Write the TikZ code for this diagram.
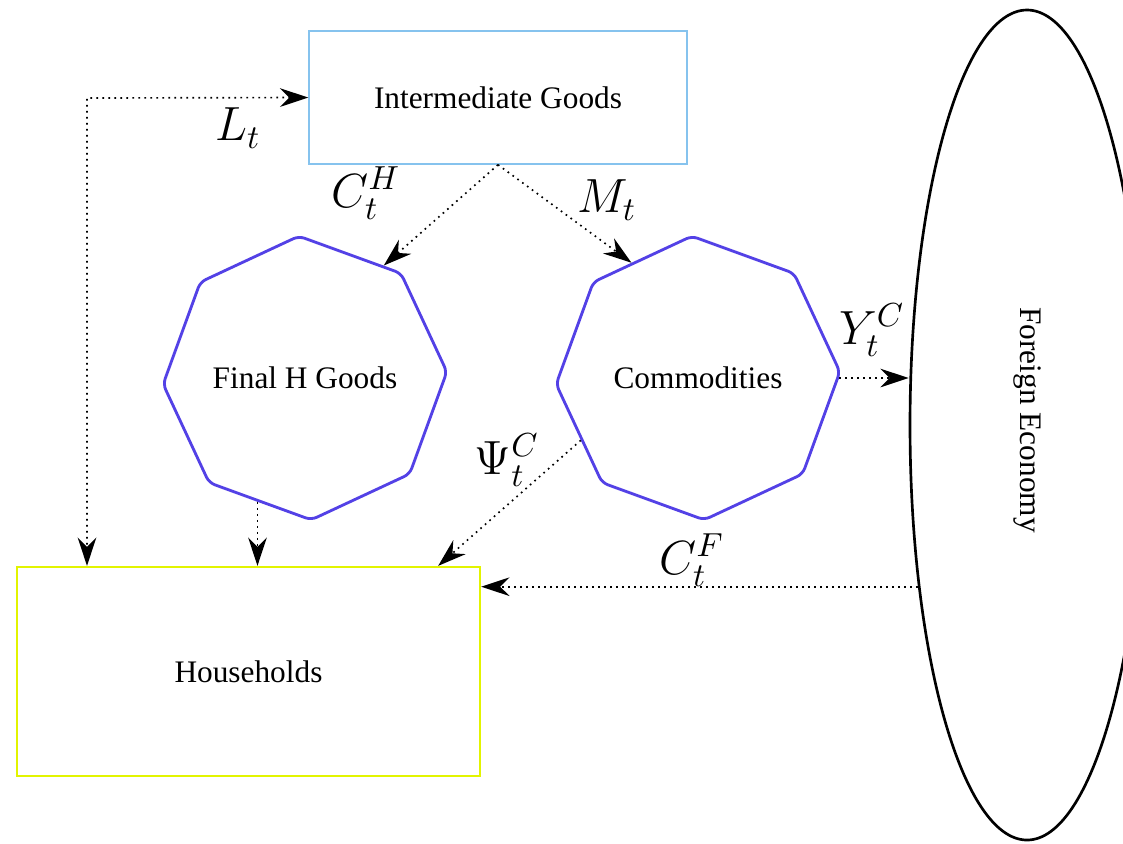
\documentclass[tikz,border=0pt]{standalone}
\usepackage{fontspec}
\setmainfont{Liberation Serif}
\usetikzlibrary{shapes.geometric,arrows.meta,calc}
\definecolor{ibox}{HTML}{86C3EE}
\definecolor{hbox}{HTML}{E2F400}
\definecolor{octo}{HTML}{5341E6}
\begin{document}
\begin{tikzpicture}[x=0.3pt,y=-0.3pt,
  txt/.style={font=\fontsize{9.4}{11}\selectfont},
  lbl/.style={font=\fontsize{14.4}{16}\selectfont},
  boxA/.style={draw=ibox,line width=0.45pt,minimum width=378*0.3pt,minimum height=133*0.3pt,inner sep=0pt,txt},
  boxB/.style={draw=hbox,line width=0.7pt,minimum width=463*0.3pt,minimum height=209*0.3pt,inner sep=0pt,txt},
  octa/.style={draw=octo,line width=0.85pt,regular polygon,regular polygon sides=8,shape border rotate=-20,minimum size=284*0.3pt,inner sep=0pt,rounded corners=1.8pt,txt},
  flow/.style={line width=0.5pt,dash pattern=on 0.5pt off 1.3pt,-{Stealth[length=8.5pt,width=5.6pt,inset=2.8pt]}},
  flow2/.style={flow,{Stealth[length=8.5pt,width=5.6pt,inset=2.8pt]}-{Stealth[length=8.5pt,width=5.6pt,inset=2.8pt]}}
]
\useasboundingbox (0,0) rectangle (1123,843);
\node[boxA] (int) at (498,97.5) {Intermediate Goods};
\node[boxB] (hh) at (248.5,671.5) {Households};
\node[octa] (fh) at (305,378) {Final H Goods};
\node[octa] (com) at (698,378) {Commodities};
\node[draw,line width=0.8pt,ellipse,minimum width=234*0.3pt,minimum height=830*0.3pt,inner sep=0pt] (fe) at (1027,425) {};
\node[txt,rotate=-90] (fel) at (1027,420) {Foreign Economy};
% connectors
\coordinate (lc) at (87,98);
\draw[flow2] (int.west) -- (lc) -- (lc |- hh.north);
\draw[flow] (int.south) -- (fh.55);
\draw[flow] (int.south) -- (com.120);
\draw[flow] (com.east) -- (com.east -| fe.west);
\draw[flow] (com.208) -- ($(hh.north east)+(-43,0)$);
\draw[flow] (fh.249) -- (fh.249 |- hh.north);
\draw[flow] (fe.236.7) -- (fe.236.7 -| hh.east);
% labels
\node[lbl] (l1) at (238,128) {$L_t$};
\node[lbl] (l2) at (366,193) {$C_t^H$};
\node[lbl] (l3) at (607,200) {$M_t$};
\node[lbl] (l4) at (872,330) {$Y_t^C$};
\node[lbl] (l5) at (507,460) {$\Psi_t^C$};
\node[lbl] (l6) at (692,560) {$C_t^F$};
\end{tikzpicture}
\end{document}
